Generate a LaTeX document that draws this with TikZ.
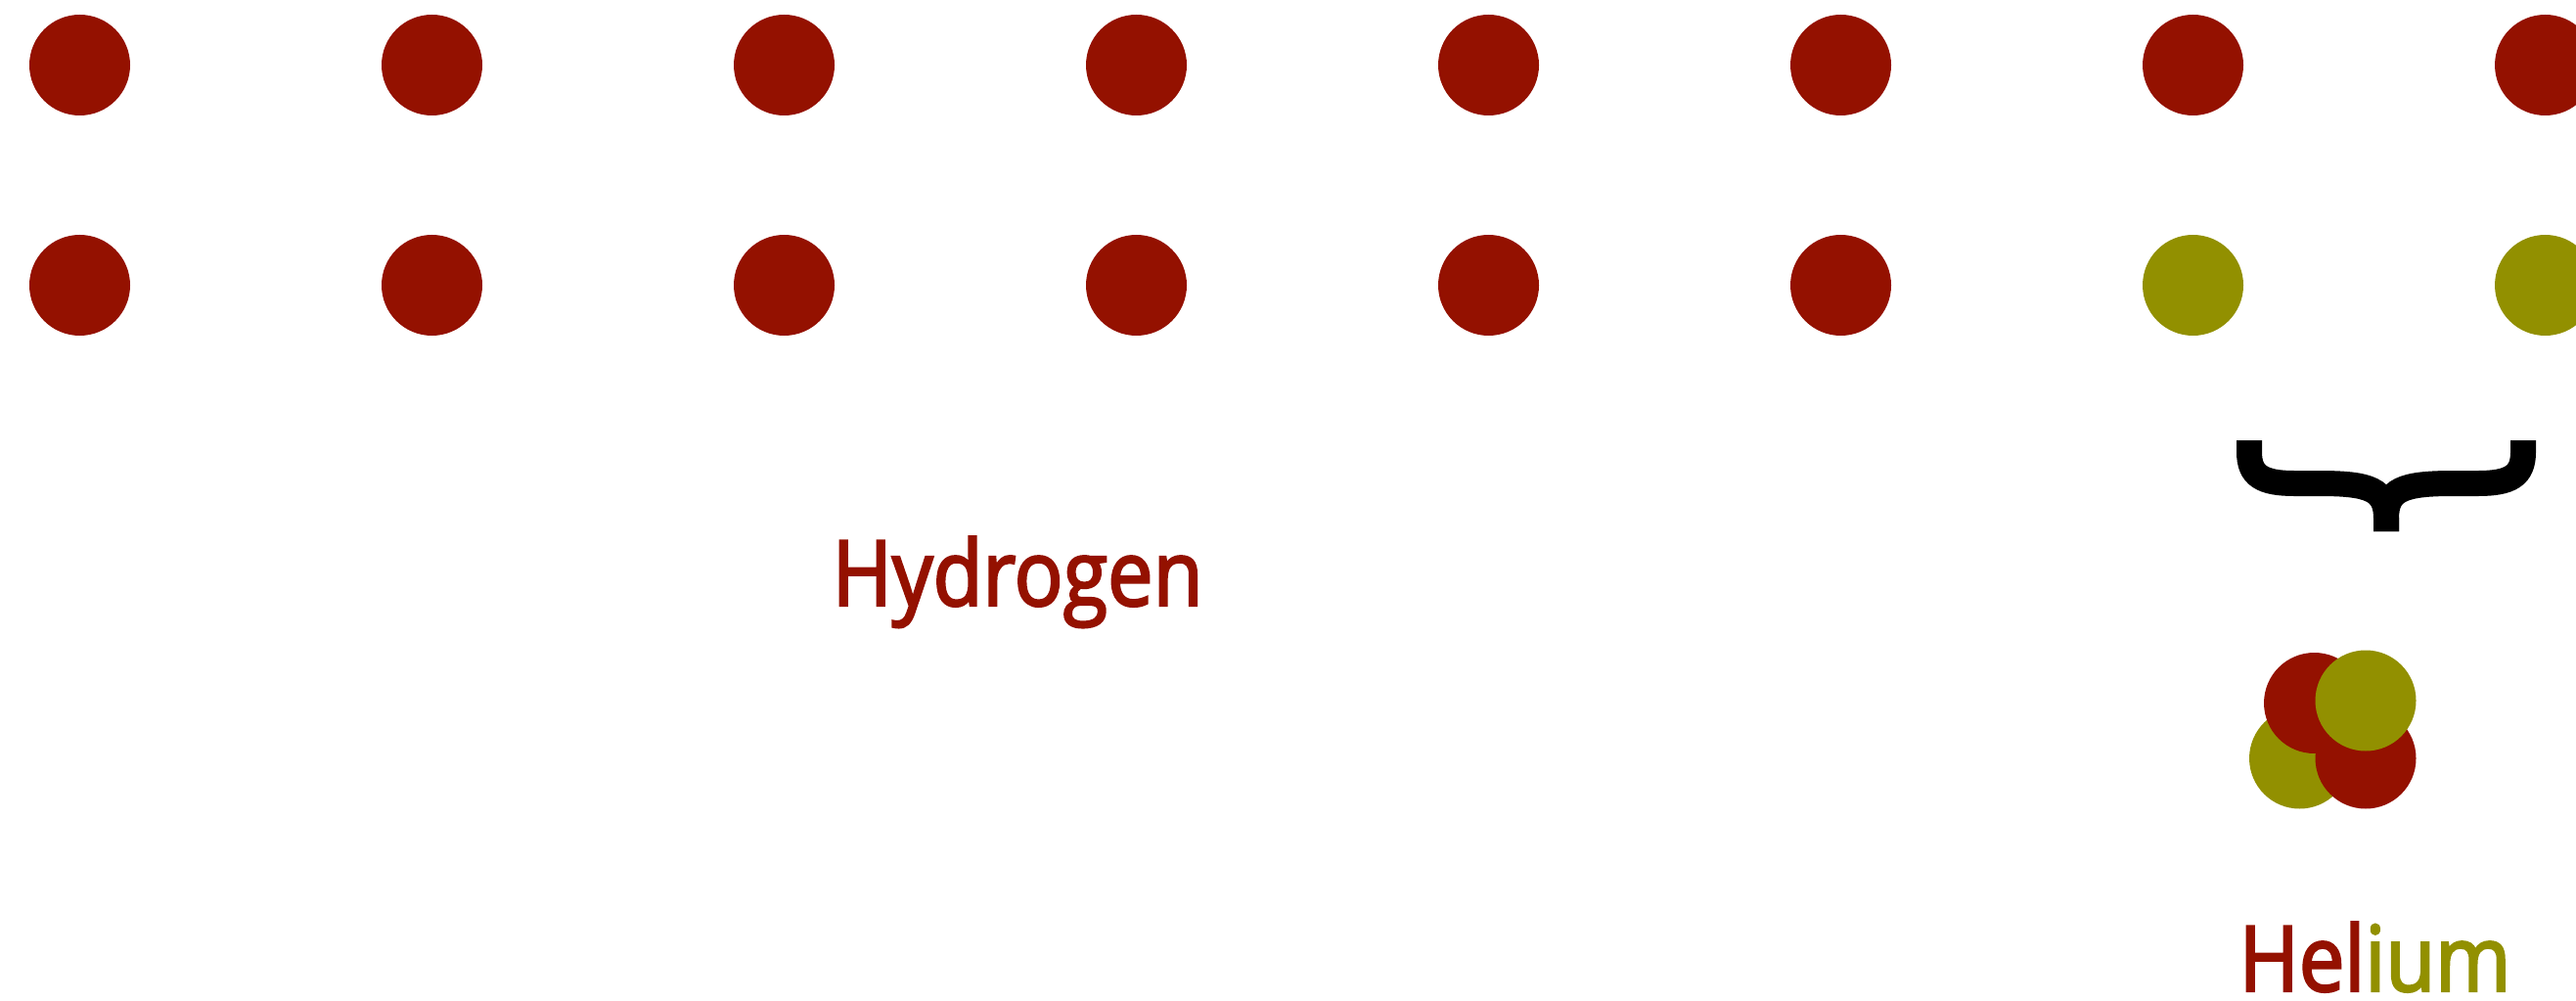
\documentclass[tikz,border=0pt]{standalone}
\usepackage{fontspec}
\newfontfamily\labelfont[FakeStretch=0.89,FakeBold=2.5]{Open Sans}
\definecolor{cayenne}{RGB}{148,17,0}
\definecolor{asparagus}{RGB}{146,144,0}
\begin{document}
\begin{tikzpicture}[
  proton/.style={circle, fill=cayenne, inner sep=0pt, minimum size=1.03cm},
  neutron/.style={circle, fill=asparagus, inner sep=0pt, minimum size=1.03cm},
  elemlabel/.style={font=\labelfont\fontsize{26.5}{30}\selectfont, inner sep=0pt, anchor=base west, text depth=0pt}
]
\clip (0,0) rectangle (26.33,-10.22);
% ====================
% Top row: hydrogen nuclei
\node[proton] (top1) at (0.815, -0.665) {};
\node[proton] (top2) at (4.415, -0.665) {};
\node[proton] (top3) at (8.015, -0.665) {};
\node[proton] (top4) at (11.615, -0.665) {};
\node[proton] (top5) at (15.215, -0.665) {};
\node[proton] (top6) at (18.815, -0.665) {};
\node[proton] (top7) at (22.415, -0.665) {};
\node[proton] (top8) at (26.015, -0.665) {};

% ====================
% Bottom row: six more protons, then two neutrons
\node[proton] (bot1) at (0.815, -2.915) {};
\node[proton] (bot2) at (4.415, -2.915) {};
\node[proton] (bot3) at (8.015, -2.915) {};
\node[proton] (bot4) at (11.615, -2.915) {};
\node[proton] (bot5) at (15.215, -2.915) {};
\node[proton] (bot6) at (18.815, -2.915) {};
\node[neutron] (bot7) at (22.415, -2.915) {};
\node[neutron] (bot8) at (26.015, -2.915) {};

% ====================
% Brace under the last two columns
\draw[line width=0.26cm] (22.99, -4.50) -- (22.99, -4.62)
  .. controls (22.99, -4.86) and (23.12, -4.94) .. (23.45, -4.94) -- (23.70, -4.94)
  .. controls (24.22, -4.94) and (24.39, -5.00) .. (24.39, -5.30) -- (24.39, -5.43);
\draw[line width=0.26cm] (25.79, -4.50) -- (25.79, -4.62)
  .. controls (25.79, -4.86) and (25.66, -4.94) .. (25.33, -4.94) -- (25.08, -4.94)
  .. controls (24.56, -4.94) and (24.39, -5.00) .. (24.39, -5.30) -- (24.39, -5.43);

% ====================
% Helium nucleus: two protons and two neutrons
\node[neutron] (heN1) at (23.505, -7.75) {};
\node[proton] (heP1) at (24.18, -7.75) {};
\node[proton] (heP2) at (23.655, -7.185) {};
\node[neutron] (heN2) at (24.18, -7.16) {};

% ====================
% Labels
\node[elemlabel, text=cayenne] (hlabel) at (8.50, -6.19) {Hydrogen};
\node[elemlabel] (helabel) at (22.88, -10.13) {\textcolor{cayenne}{Hel}\textcolor{asparagus}{ium}};
\end{tikzpicture}
\end{document}
